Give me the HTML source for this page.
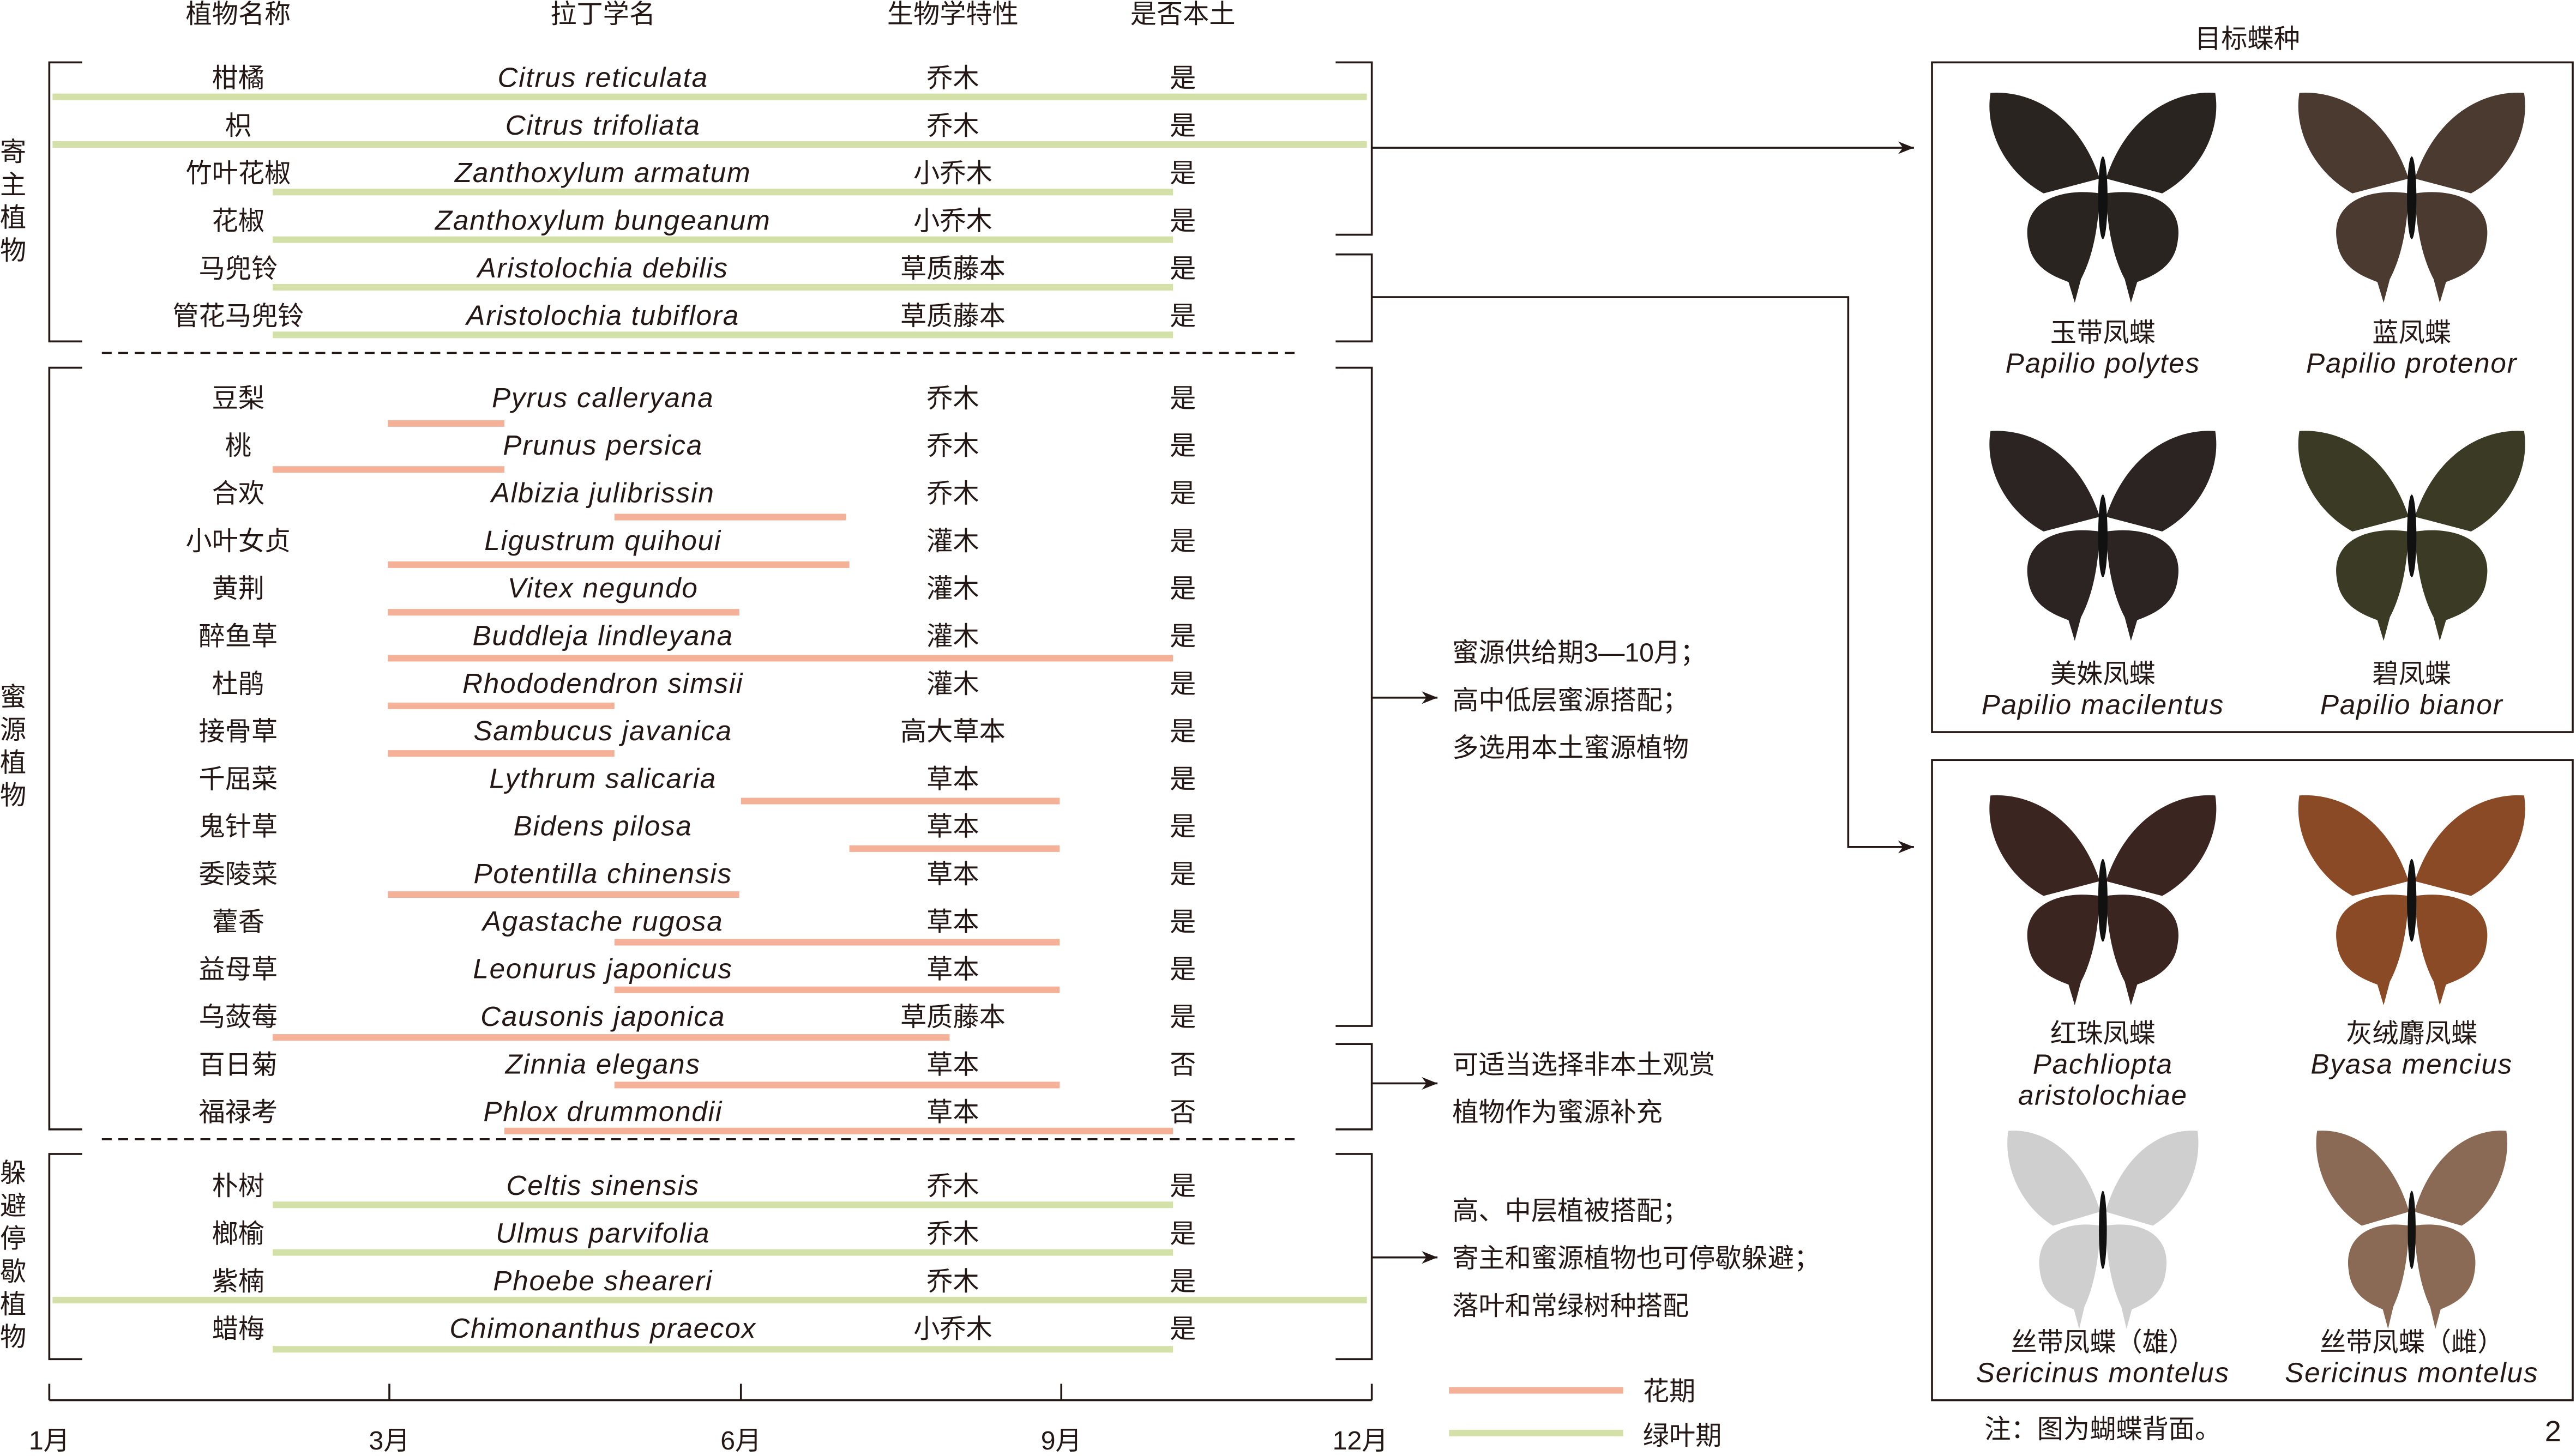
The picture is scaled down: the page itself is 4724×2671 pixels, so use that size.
<!DOCTYPE html>
<html><head><meta charset="utf-8"><style>
html,body{margin:0;padding:0;background:#fff}
svg{display:block}
text{font-family:"Liberation Sans","Noto Sans CJK SC",sans-serif;font-size:16px;fill:#231815}
.c{text-anchor:middle}
.i{font-style:italic;font-size:17px;letter-spacing:0.6px}
</style></head><body>
<svg width="4724" height="2671" viewBox="0 0 1568 887" preserveAspectRatio="none" xmlns="http://www.w3.org/2000/svg">
<defs>
<marker id="ar" viewBox="0 0 10 10" refX="10" refY="5" markerWidth="8" markerHeight="8" orient="auto"><path d="M0,1 L10,5 L0,9 L3,5Z" fill="#231815"/></marker>
<g id="bf">
<path d="M2,-8 C15,-50 45,-68 72,-66 C76,-40 62,-12 38,2 Z"/>
<path d="M2,2 C28,-2 52,8 48,34 C46,52 32,58 22,62 L18,76 L14,60 C8,48 3,30 2,2Z"/>
<g transform="scale(-1,1)">
<path d="M2,-8 C15,-50 45,-68 72,-66 C76,-40 62,-12 38,2 Z"/>
<path d="M2,2 C28,-2 52,8 48,34 C46,52 32,58 22,62 L18,76 L14,60 C8,48 3,30 2,2Z"/>
</g>
<ellipse cx="0" cy="5" rx="3" ry="28" fill="#111"/>
</g>
</defs>
<g stroke-width="4" fill="none">
<g stroke="#d3e0a8">
<line x1="32" y1="59" x2="832" y2="59"/><line x1="32" y1="88" x2="832" y2="88"/>
<line x1="166" y1="117" x2="714" y2="117"/><line x1="166" y1="146" x2="714" y2="146"/>
<line x1="166" y1="175" x2="714" y2="175"/><line x1="166" y1="204" x2="714" y2="204"/>
<line x1="166" y1="734" x2="714" y2="734"/><line x1="166" y1="763" x2="714" y2="763"/>
<line x1="32" y1="792" x2="832" y2="792"/><line x1="166" y1="822" x2="714" y2="822"/>
<line x1="882" y1="873" x2="988" y2="873"/>
</g>
<g stroke="#f4b197">
<line x1="236" y1="258" x2="307" y2="258"/><line x1="166" y1="286" x2="307" y2="286"/>
<line x1="374" y1="315" x2="515" y2="315"/><line x1="236" y1="344" x2="517" y2="344"/>
<line x1="236" y1="373" x2="450" y2="373"/><line x1="236" y1="401" x2="714" y2="401"/>
<line x1="236" y1="430" x2="374" y2="430"/><line x1="236" y1="459" x2="374" y2="459"/>
<line x1="451" y1="488" x2="645" y2="488"/><line x1="517" y1="517" x2="645" y2="517"/>
<line x1="236" y1="545" x2="450" y2="545"/><line x1="374" y1="574" x2="645" y2="574"/>
<line x1="374" y1="603" x2="645" y2="603"/><line x1="166" y1="632" x2="578" y2="632"/>
<line x1="374" y1="661" x2="645" y2="661"/><line x1="307" y1="689" x2="714" y2="689"/>
<line x1="882" y1="847" x2="988" y2="847"/>
</g>
</g>
<g stroke="#231815" stroke-width="1.2" fill="none">
<path d="M50,38 H30 V208 H50"/><path d="M50,224 H30 V688 H50"/><path d="M50,703 H30 V828 H50"/>
<path d="M813,38 H835 V143 H813"/><path d="M813,155 H835 V208 H813"/>
<path d="M813,224 H835 V625 H813"/><path d="M813,636 H835 V688 H813"/>
<path d="M813,703 H835 V828 H813"/>
<line x1="62" y1="215" x2="790" y2="215" stroke-dasharray="6,4"/>
<line x1="62" y1="694" x2="790" y2="694" stroke-dasharray="6,4"/>
<line x1="835" y1="90" x2="1165" y2="90" marker-end="url(#ar)"/>
<path d="M835,181 H1125 V516 H1165" marker-end="url(#ar)"/>
<line x1="835" y1="425" x2="875" y2="425" marker-end="url(#ar)"/>
<line x1="835" y1="660" x2="875" y2="660" marker-end="url(#ar)"/>
<line x1="835" y1="766" x2="875" y2="766" marker-end="url(#ar)"/>
<line x1="30" y1="853" x2="835" y2="853"/>
<line x1="30" y1="843" x2="30" y2="853"/><line x1="237" y1="843" x2="237" y2="853"/>
<line x1="451" y1="843" x2="451" y2="853"/><line x1="646" y1="843" x2="646" y2="853"/>
<line x1="835" y1="843" x2="835" y2="853"/>
<rect x="1176" y="38" width="390" height="408"/><rect x="1176" y="463" width="390" height="390"/>
</g>
<g class="c">
<text x="145" y="14">植物名称</text><text x="367" y="14">拉丁学名</text><text x="580" y="14">生物学特性</text><text x="720" y="14">是否本土</text>
<text x="1368" y="29">目标蝶种</text>
<text x="30" y="883">1月</text><text x="237" y="883">3月</text><text x="451" y="883">6月</text><text x="646" y="883">9月</text><text x="828" y="883">12月</text>
</g>
<g class="c">
<text x="8" y="98">寄</text><text x="8" y="118">主</text><text x="8" y="138">植</text><text x="8" y="158">物</text>
<text x="8" y="430">蜜</text><text x="8" y="450">源</text><text x="8" y="470">植</text><text x="8" y="490">物</text>
<text x="8" y="720">躲</text><text x="8" y="740">避</text><text x="8" y="760">停</text><text x="8" y="780">歇</text><text x="8" y="800">植</text><text x="8" y="820">物</text>
</g>
<g class="c">
<text x="145" y="53">柑橘</text><text class="i" x="367" y="53">Citrus reticulata</text><text x="580" y="53">乔木</text><text x="720" y="53">是</text>
<text x="145" y="82">枳</text><text class="i" x="367" y="82">Citrus trifoliata</text><text x="580" y="82">乔木</text><text x="720" y="82">是</text>
<text x="145" y="111">竹叶花椒</text><text class="i" x="367" y="111">Zanthoxylum armatum</text><text x="580" y="111">小乔木</text><text x="720" y="111">是</text>
<text x="145" y="140">花椒</text><text class="i" x="367" y="140">Zanthoxylum bungeanum</text><text x="580" y="140">小乔木</text><text x="720" y="140">是</text>
<text x="145" y="169">马兜铃</text><text class="i" x="367" y="169">Aristolochia debilis</text><text x="580" y="169">草质藤本</text><text x="720" y="169">是</text>
<text x="145" y="198">管花马兜铃</text><text class="i" x="367" y="198">Aristolochia tubiflora</text><text x="580" y="198">草质藤本</text><text x="720" y="198">是</text>
<text x="145" y="248">豆梨</text><text class="i" x="367" y="248">Pyrus calleryana</text><text x="580" y="248">乔木</text><text x="720" y="248">是</text>
<text x="145" y="277">桃</text><text class="i" x="367" y="277">Prunus persica</text><text x="580" y="277">乔木</text><text x="720" y="277">是</text>
<text x="145" y="306">合欢</text><text class="i" x="367" y="306">Albizia julibrissin</text><text x="580" y="306">乔木</text><text x="720" y="306">是</text>
<text x="145" y="335">小叶女贞</text><text class="i" x="367" y="335">Ligustrum quihoui</text><text x="580" y="335">灌木</text><text x="720" y="335">是</text>
<text x="145" y="364">黄荆</text><text class="i" x="367" y="364">Vitex negundo</text><text x="580" y="364">灌木</text><text x="720" y="364">是</text>
<text x="145" y="393">醉鱼草</text><text class="i" x="367" y="393">Buddleja lindleyana</text><text x="580" y="393">灌木</text><text x="720" y="393">是</text>
<text x="145" y="422">杜鹃</text><text class="i" x="367" y="422">Rhododendron simsii</text><text x="580" y="422">灌木</text><text x="720" y="422">是</text>
<text x="145" y="451">接骨草</text><text class="i" x="367" y="451">Sambucus javanica</text><text x="580" y="451">高大草本</text><text x="720" y="451">是</text>
<text x="145" y="480">千屈菜</text><text class="i" x="367" y="480">Lythrum salicaria</text><text x="580" y="480">草本</text><text x="720" y="480">是</text>
<text x="145" y="509">鬼针草</text><text class="i" x="367" y="509">Bidens pilosa</text><text x="580" y="509">草本</text><text x="720" y="509">是</text>
<text x="145" y="538">委陵菜</text><text class="i" x="367" y="538">Potentilla chinensis</text><text x="580" y="538">草本</text><text x="720" y="538">是</text>
<text x="145" y="567">藿香</text><text class="i" x="367" y="567">Agastache rugosa</text><text x="580" y="567">草本</text><text x="720" y="567">是</text>
<text x="145" y="596">益母草</text><text class="i" x="367" y="596">Leonurus japonicus</text><text x="580" y="596">草本</text><text x="720" y="596">是</text>
<text x="145" y="625">乌蔹莓</text><text class="i" x="367" y="625">Causonis japonica</text><text x="580" y="625">草质藤本</text><text x="720" y="625">是</text>
<text x="145" y="654">百日菊</text><text class="i" x="367" y="654">Zinnia elegans</text><text x="580" y="654">草本</text><text x="720" y="654">否</text>
<text x="145" y="683">福禄考</text><text class="i" x="367" y="683">Phlox drummondii</text><text x="580" y="683">草本</text><text x="720" y="683">否</text>
<text x="145" y="728">朴树</text><text class="i" x="367" y="728">Celtis sinensis</text><text x="580" y="728">乔木</text><text x="720" y="728">是</text>
<text x="145" y="757">榔榆</text><text class="i" x="367" y="757">Ulmus parvifolia</text><text x="580" y="757">乔木</text><text x="720" y="757">是</text>
<text x="145" y="786">紫楠</text><text class="i" x="367" y="786">Phoebe sheareri</text><text x="580" y="786">乔木</text><text x="720" y="786">是</text>
<text x="145" y="815">蜡梅</text><text class="i" x="367" y="815">Chimonanthus praecox</text><text x="580" y="815">小乔木</text><text x="720" y="815">是</text>
</g>
<g>
<text x="884" y="403">蜜源供给期3—10月；</text><text x="884" y="432">高中低层蜜源搭配；</text><text x="884" y="461">多选用本土蜜源植物</text>
<text x="884" y="654">可适当选择非本土观赏</text><text x="884" y="683">植物作为蜜源补充</text>
<text x="884" y="743">高、中层植被搭配；</text><text x="884" y="772">寄主和蜜源植物也可停歇躲避；</text><text x="884" y="801">落叶和常绿树种搭配</text>
<text x="1000" y="853">花期</text><text x="1000" y="880">绿叶期</text>
<text x="1208" y="876">注：图为蝴蝶背面。</text><text x="1549" y="878" style="font-size:18px">2</text>
</g>
<g transform="translate(1280,116) scale(0.95,0.9)" fill="#2a2420"><use href="#bf"/></g>
<g transform="translate(1468,116) scale(0.95,0.9)" fill="#4a3a30"><use href="#bf"/></g>
<g transform="translate(1280,322) scale(0.95,0.9)" fill="#2b2422"><use href="#bf"/></g>
<g transform="translate(1468,322) scale(0.95,0.9)" fill="#3b3a24"><use href="#bf"/></g>
<g transform="translate(1280,544) scale(0.95,0.9)" fill="#3a2520"><use href="#bf"/></g>
<g transform="translate(1468,544) scale(0.95,0.9)" fill="#8a4a26"><use href="#bf"/></g>
<g transform="translate(1280,745) scale(0.8,0.85)" fill="#cfcfd0"><use href="#bf"/></g>
<g transform="translate(1468,745) scale(0.8,0.85)" fill="#8a6a55"><use href="#bf"/></g>
<g class="c">
<text x="1280" y="208">玉带凤蝶</text><text class="i" x="1280" y="227">Papilio polytes</text>
<text x="1468" y="208">蓝凤蝶</text><text class="i" x="1468" y="227">Papilio protenor</text>
<text x="1280" y="416">美姝凤蝶</text><text class="i" x="1280" y="435">Papilio macilentus</text>
<text x="1468" y="416">碧凤蝶</text><text class="i" x="1468" y="435">Papilio bianor</text>
<text x="1280" y="635">红珠凤蝶</text><text class="i" x="1280" y="654">Pachliopta</text><text class="i" x="1280" y="673">aristolochiae</text>
<text x="1468" y="635">灰绒麝凤蝶</text><text class="i" x="1468" y="654">Byasa mencius</text>
<text x="1280" y="823">丝带凤蝶（雄）</text><text class="i" x="1280" y="842">Sericinus montelus</text>
<text x="1468" y="823">丝带凤蝶（雌）</text><text class="i" x="1468" y="842">Sericinus montelus</text>
</g>
</svg>
</body></html>
